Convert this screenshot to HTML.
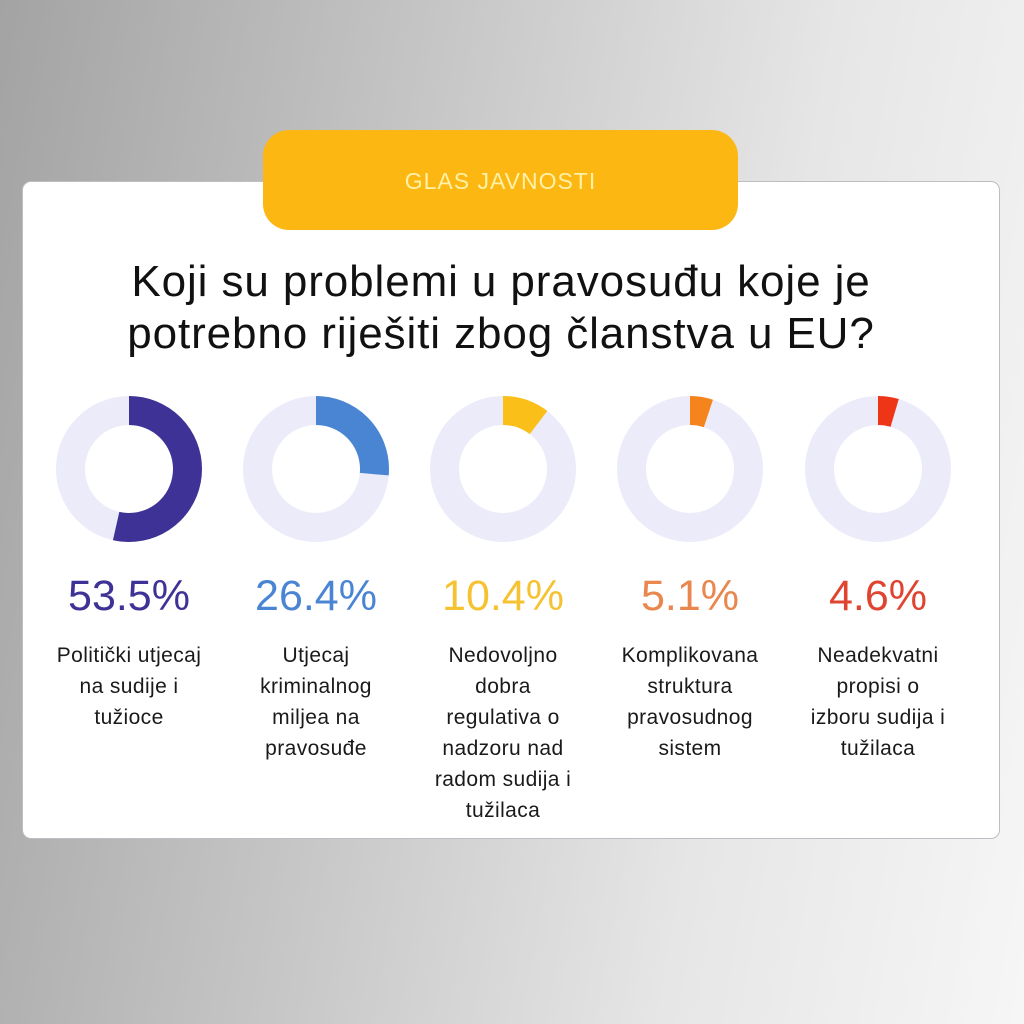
<!DOCTYPE html>
<html><head><meta charset="utf-8"><style>
html,body{margin:0;padding:0}
body{width:1024px;height:1024px;position:relative;overflow:hidden;font-family:"Liberation Sans",sans-serif;
background:linear-gradient(100deg,#a3a3a3 0%,#c4c4c4 35%,#e6e6e6 70%,#f6f6f6 100%);}
.card{position:absolute;left:22px;top:181px;width:976px;height:656px;background:#fff;border:1px solid #bdbdc4;border-radius:9px;}
.pill{position:absolute;left:263px;top:130px;width:475px;height:100px;background:#fdb713;border-radius:26px;color:#fff1a6;font-size:23px;text-align:center;line-height:102px;letter-spacing:1px}
.title{position:absolute;left:0;width:1002px;top:256px;text-align:center;font-size:44px;line-height:52px;color:#111;letter-spacing:0.9px}
.pct{position:absolute;top:570px;width:190px;text-align:center;font-size:43px;line-height:52px;letter-spacing:0}
.lab{position:absolute;top:640px;width:190px;text-align:center;font-size:21px;line-height:31px;color:#1a1a1a;letter-spacing:0.4px}
svg{position:absolute;left:0;top:0}
</style></head><body>
<div class="card"></div>
<div class="pill">GLAS JAVNOSTI</div>
<div class="title">Koji su problemi u pravosuđu koje je<br>potrebno riješiti zbog članstva u EU?</div>
<svg width="1024" height="1024">
<g fill="none" stroke-width="29">
<circle cx="129" cy="469" r="58.5" stroke="#ebebfa"/>
<circle cx="129" cy="469" r="58.5" stroke="#3f3296" stroke-dasharray="196.7 400" transform="rotate(-90 129 469)"/>
<circle cx="316" cy="469" r="58.5" stroke="#ebebfa"/>
<circle cx="316" cy="469" r="58.5" stroke="#4a85d3" stroke-dasharray="97 400" transform="rotate(-90 316 469)"/>
<circle cx="503" cy="469" r="58.5" stroke="#ebebfa"/>
<circle cx="503" cy="469" r="58.5" stroke="#fbbf1a" stroke-dasharray="38.2 400" transform="rotate(-90 503 469)"/>
<circle cx="690" cy="469" r="58.5" stroke="#ebebfa"/>
<circle cx="690" cy="469" r="58.5" stroke="#f6841c" stroke-dasharray="18.7 400" transform="rotate(-90 690 469)"/>
<circle cx="878" cy="469" r="58.5" stroke="#ebebfa"/>
<circle cx="878" cy="469" r="58.5" stroke="#ee3518" stroke-dasharray="16.9 400" transform="rotate(-90 878 469)"/>
</g></svg>
<div class="pct" style="left:34px;color:#3f3296">53.5%</div>
<div class="pct" style="left:221px;color:#4a85d3">26.4%</div>
<div class="pct" style="left:408px;color:#f5c232">10.4%</div>
<div class="pct" style="left:595px;color:#e9874e">5.1%</div>
<div class="pct" style="left:783px;color:#df4430">4.6%</div>
<div class="lab" style="left:29px;width:200px">Politički utjecaj<br>na sudije i<br>tužioce</div>
<div class="lab" style="left:216px;width:200px">Utjecaj<br>kriminalnog<br>miljea na<br>pravosuđe</div>
<div class="lab" style="left:403px;width:200px">Nedovoljno<br>dobra<br>regulativa o<br>nadzoru nad<br>radom sudija i<br>tužilaca</div>
<div class="lab" style="left:590px;width:200px">Komplikovana<br>struktura<br>pravosudnog<br>sistem</div>
<div class="lab" style="left:778px;width:200px">Neadekvatni<br>propisi o<br>izboru sudija i<br>tužilaca</div>
</body></html>
